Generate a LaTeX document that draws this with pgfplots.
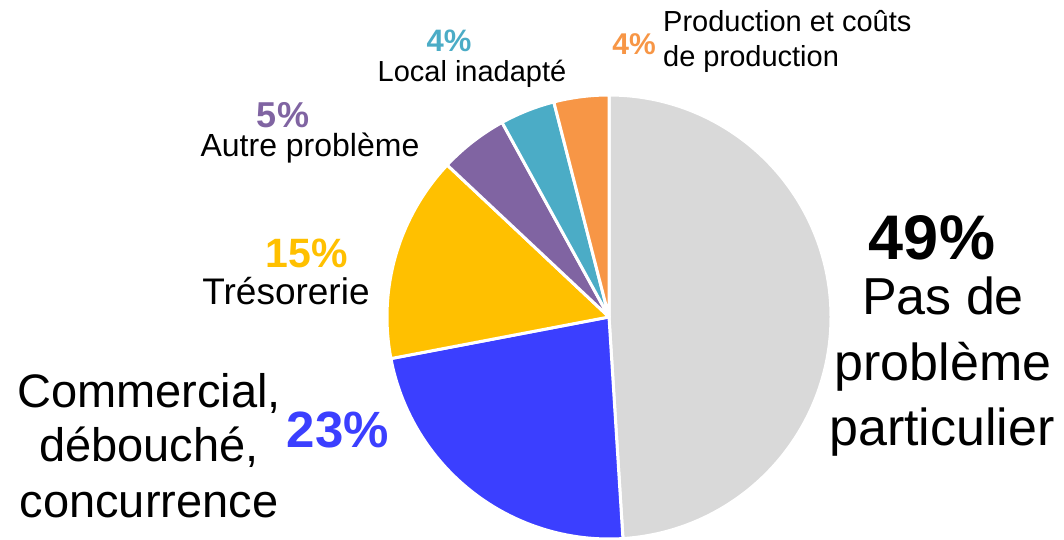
\documentclass[border=0pt]{standalone}
\usepackage{pgfplots}
\pgfplotsset{compat=1.18}
\usepackage{fontspec}
\setmainfont{Liberation Sans}
\definecolor{cGray}{HTML}{D9D9D9}
\definecolor{cBlue}{HTML}{3B3FFF}
\definecolor{cYellow}{HTML}{FFC000}
\definecolor{cPurple}{HTML}{8064A2}
\definecolor{cTeal}{HTML}{4BACC6}
\definecolor{cOrange}{HTML}{F79646}
\begin{document}
\begin{tikzpicture}
% shares in percent
\def\vA{49}\def\vB{23}\def\vC{15}\def\vD{5}\def\vE{4}\def\vF{4}
\def\cx{609}\def\cy{-317}\def\R{222}
\pgfmathsetmacro\aA{90}
\pgfmathsetmacro\aB{\aA-\vA*3.6}
\pgfmathsetmacro\aC{\aB-\vB*3.6}
\pgfmathsetmacro\aD{\aC-\vC*3.6}
\pgfmathsetmacro\aE{\aD-\vD*3.6}
\pgfmathsetmacro\aF{\aE-\vE*3.6}
\pgfmathsetmacro\aG{\aF-\vF*3.6}
\begin{axis}[width=1064pt,height=540pt,scale only axis,hide axis,clip=false,
  xmin=0,xmax=1064,ymin=-540,ymax=0,at={(0,0)},anchor=south west]
\pgfplotsset{every axis plot/.append style={draw=white,line width=3pt,line join=round,samples=150}}
\addplot[fill=cGray,domain=\aB:\aA] ({\cx+\R*cos(x)},{\cy+\R*sin(x)}) -- (axis cs:\cx,\cy) -- cycle;
\addplot[fill=cBlue,domain=\aC:\aB] ({\cx+\R*cos(x)},{\cy+\R*sin(x)}) -- (axis cs:\cx,\cy) -- cycle;
\addplot[fill=cYellow,domain=\aD:\aC] ({\cx+\R*cos(x)},{\cy+\R*sin(x)}) -- (axis cs:\cx,\cy) -- cycle;
\addplot[fill=cPurple,domain=\aE:\aD] ({\cx+\R*cos(x)},{\cy+\R*sin(x)}) -- (axis cs:\cx,\cy) -- cycle;
\addplot[fill=cTeal,domain=\aF:\aE] ({\cx+\R*cos(x)},{\cy+\R*sin(x)}) -- (axis cs:\cx,\cy) -- cycle;
\addplot[fill=cOrange,domain=\aG:\aF] ({\cx+\R*cos(x)},{\cy+\R*sin(x)}) -- (axis cs:\cx,\cy) -- cycle;
\tikzset{lbl/.style={inner sep=0pt,anchor=base}}
% 49%
\node[lbl,font=\fontsize{63}{63}\selectfont\bfseries] at (axis cs:932,-260) {49\%};
\node[lbl,font=\fontsize{52}{52}\selectfont] at (axis cs:943,-315) {Pas de};
\node[lbl,font=\fontsize{52}{52}\selectfont] at (axis cs:943,-381) {problème};
\node[lbl,font=\fontsize{52}{52}\selectfont] at (axis cs:942,-446) {particulier};
% 23%
\node[lbl,font=\fontsize{47}{47}\selectfont] at (axis cs:149,-408) {Commercial,};
\node[lbl,font=\fontsize{47}{47}\selectfont] at (axis cs:149,-462) {débouché,};
\node[lbl,font=\fontsize{47}{47}\selectfont] at (axis cs:149,-518) {concurrence};
\node[lbl,font=\fontsize{51}{51}\selectfont\bfseries,text=cBlue] at (axis cs:338,-448) {23\%};
% 15%
\node[lbl,font=\fontsize{41}{41}\selectfont\bfseries,text=cYellow] at (axis cs:307,-268) {15\%};
\node[lbl,font=\fontsize{37}{37}\selectfont] at (axis cs:286,-305) {Trésorerie};
% 5%
\node[lbl,font=\fontsize{36}{36}\selectfont\bfseries,text=cPurple] at (axis cs:283,-128) {5\%};
\node[lbl,font=\fontsize{32}{32}\selectfont] at (axis cs:310,-157) {Autre problème};
% 4% teal
\node[lbl,font=\fontsize{31}{31}\selectfont\bfseries,text=cTeal] at (axis cs:449,-52) {4\%};
\node[lbl,font=\fontsize{29}{29}\selectfont] at (axis cs:472,-82) {Local inadapté};
% 4% orange
\node[lbl,font=\fontsize{30}{30}\selectfont\bfseries,text=cOrange] at (axis cs:634,-55) {4\%};
\node[inner sep=0pt,anchor=base west,font=\fontsize{29}{29}\selectfont] at (axis cs:663,-32) {Production et coûts};
\node[inner sep=0pt,anchor=base west,font=\fontsize{29}{29}\selectfont] at (axis cs:663,-67) {de production};
\end{axis}
\pgfresetboundingbox
\path (current axis.south west) rectangle (current axis.north east);
\end{tikzpicture}
\end{document}
